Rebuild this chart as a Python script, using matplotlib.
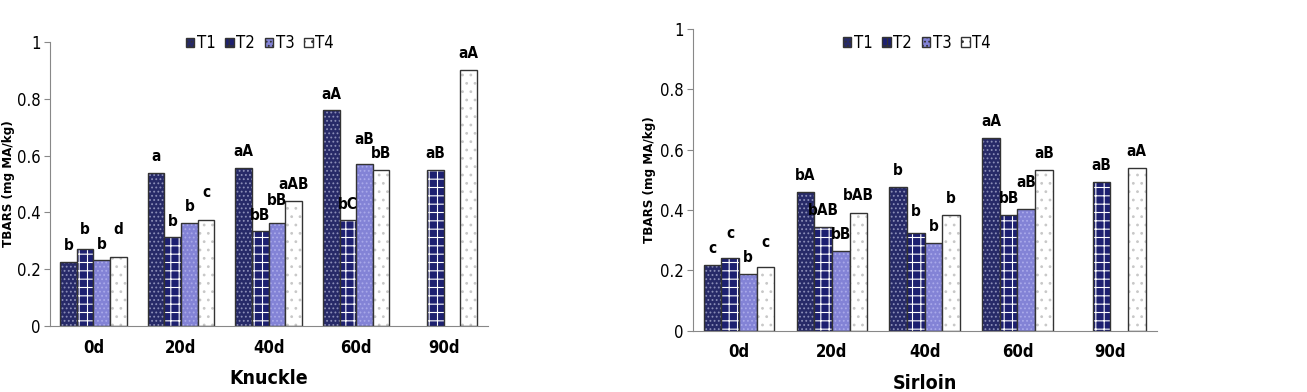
import numpy as np
import matplotlib
matplotlib.use("Agg")
import matplotlib.pyplot as plt
from matplotlib.patches import Patch

plt.rcParams['font.family'] = ['DejaVu Sans']
plt.rcParams['font.stretch'] = 'condensed'
plt.rcParams['hatch.linewidth'] = 0.8

# data
days = ["0d", "20d", "40d", "60d", "90d"]
treatments = ["T1", "T2", "T3", "T4"]

knuckle_t1 = [0.226, 0.539, 0.557, 0.760, np.nan]
knuckle_t2 = [0.271, 0.312, 0.334, 0.373, 0.551]
knuckle_t3 = [0.232, 0.363, 0.363, 0.572, np.nan]
knuckle_t4 = [0.244, 0.373, 0.441, 0.551, 0.903]

knuckle_lab_t1 = ["b", "a", "aA", "aA", ""]
knuckle_lab_t2 = ["b", "b", "bB", "bC", "aB"]
knuckle_lab_t3 = ["b", "b", "bB", "aB", ""]
knuckle_lab_t4 = ["d", "c", "aAB", "bB", "aA"]

sirloin_t1 = [0.219, 0.459, 0.476, 0.639, np.nan]
sirloin_t2 = [0.243, 0.343, 0.323, 0.385, 0.493]
sirloin_t3 = [0.189, 0.263, 0.290, 0.404, np.nan]
sirloin_t4 = [0.210, 0.392, 0.383, 0.533, 0.539]

sirloin_lab_t1 = ["c", "bA", "b", "aA", ""]
sirloin_lab_t2 = ["c", "bAB", "b", "bB", "aB"]
sirloin_lab_t3 = ["b", "bB", "b", "aB", ""]
sirloin_lab_t4 = ["c", "bAB", "b", "aB", "aA"]

# style per treatment: face, hatch, hatch colour
styles = [
    ("#272a68", "....", "#8c8fb8"),
    ("#1d2070", "++", "#ffffff"),
    ("#8383d6", "....", "#a9a9ea"),
    ("#ffffff", "..", "#c8c8c8"),
]


def draw_panel(ax, series, labels, xlabel, leg_x, leg_y, ylab_x):
    x = np.arange(len(days))
    w = 0.19
    vals = np.array(series, dtype=float)
    for i in range(len(series)):
        face, hatch, hcol = styles[i]
        pos = x + (i - 1.5) * w
        ax.bar(pos, vals[i], w, color=face, hatch=hatch, edgecolor=hcol, linewidth=0)
        ax.bar(pos, vals[i], w, fill=False, edgecolor="#333333", linewidth=1.0)

    # letters above bars; lift the taller of two close neighbours so they don't collide
    for j in range(len(days)):
        ys = vals[:, j] + 0.03
        for i in range(1, len(series)):
            a, b = vals[i - 1, j], vals[i, j]
            if np.isnan(a) or np.isnan(b) or abs(a - b) >= 0.06:
                continue
            k = i if b >= a else i - 1
            ys[k] = max(ys[k], ys[2 * i - 1 - k] + 0.05)
        for i in range(len(series)):
            t = labels[i][j]
            if t and not np.isnan(vals[i, j]):
                ax.text(x[j] + (i - 1.5) * w, ys[i], t, ha="center", va="bottom",
                        fontsize=11, fontweight="bold")

    ax.set_xlim(-0.5, len(days) - 0.5)
    ax.set_ylim(0, 1)
    ax.set_yticks(np.arange(0, 1.01, 0.2))
    ax.set_yticklabels(["0", "0.2", "0.4", "0.6", "0.8", "1"])
    ax.set_xticks(x)
    ax.set_xticklabels(days, fontweight="bold")
    ax.tick_params(axis="x", length=0, labelsize=12, pad=9)
    ax.tick_params(axis="y", labelsize=12, length=4, pad=2.5, color="#888888")
    for s in ["top", "right"]:
        ax.spines[s].set_visible(False)
    for s in ["left", "bottom"]:
        ax.spines[s].set_color("#888888")
    ax.set_ylabel("TBARS (mg MA/kg)", fontsize=9.5, fontweight="bold")
    ax.yaxis.set_label_coords(ylab_x, 0.5)
    ax.set_xlabel(xlabel, fontsize=14, fontweight="bold", labelpad=9)
    handles = [Patch(facecolor=f, hatch=h, edgecolor="#333333") for f, h, _ in styles]
    ax.legend(handles, treatments, loc="center", bbox_to_anchor=(leg_x, leg_y),
              ncol=4, frameon=False, handlelength=0.5, handleheight=0.5,
              handletextpad=0.15, columnspacing=0.6, fontsize=12)


fig = plt.figure(figsize=(13.07, 3.92), dpi=100)
ax1 = fig.add_axes([0.038, 0.168, 0.335, 0.725])
ax2 = fig.add_axes([0.530, 0.156, 0.355, 0.770])

draw_panel(ax1, [knuckle_t1, knuckle_t2, knuckle_t3, knuckle_t4],
           [knuckle_lab_t1, knuckle_lab_t2, knuckle_lab_t3, knuckle_lab_t4],
           "Knuckle", 0.48, 0.995, -0.08)
draw_panel(ax2, [sirloin_t1, sirloin_t2, sirloin_t3, sirloin_t4],
           [sirloin_lab_t1, sirloin_lab_t2, sirloin_lab_t3, sirloin_lab_t4],
           "Sirloin", 0.483, 0.954, -0.08)

fig.savefig("out.png", dpi=100)
